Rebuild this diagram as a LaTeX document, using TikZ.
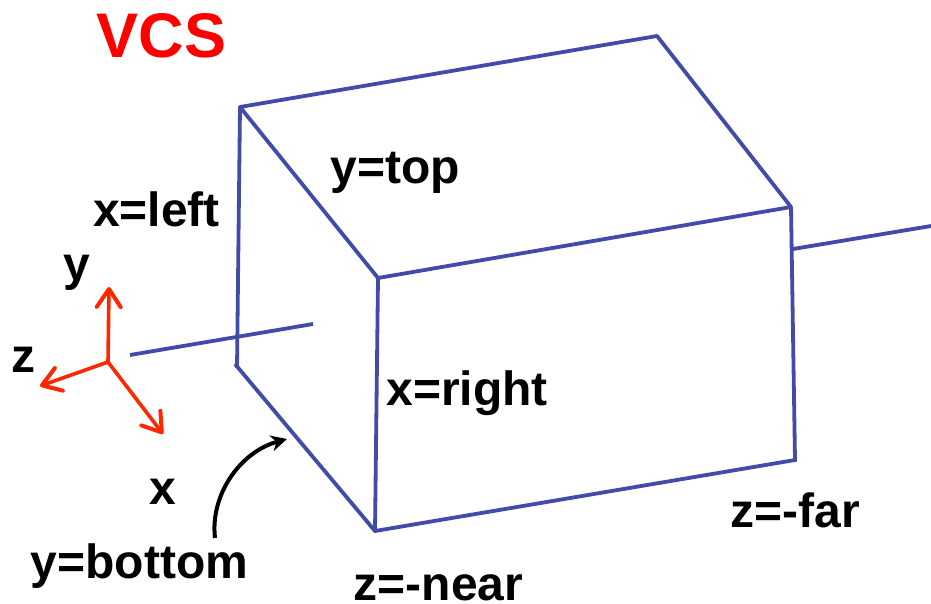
\documentclass[tikz,border=0pt]{standalone}
\usepackage{fontspec}
\setmainfont{Liberation Sans}
\usetikzlibrary{arrows.meta}
\definecolor{boxblue}{RGB}{66,74,170}
\definecolor{axisred}{RGB}{255,38,0}
\tikzset{
  edgeline/.style={draw=boxblue,line width=3.8pt},
  axisline/.style={draw=axisred,line width=3.6pt,-{Straight Barb[length=18pt,width=24pt,line width=4pt,round]}},
  lab/.style={font=\bfseries\fontsize{48}{48}\selectfont,text=black,inner sep=0pt,anchor=base},
}
\begin{document}
\begin{tikzpicture}[x=1pt,y=-1pt]
\useasboundingbox (0,0) rectangle (931,604);
\coordinate (A) at (240,107);
\coordinate (B) at (657,36);
\coordinate (C) at (791,207);
\coordinate (D) at (378,278);
\coordinate (E) at (235,364);
\coordinate (F) at (375,531);
\coordinate (G) at (795,460);
\coordinate (H) at (237,368);
\coordinate (I1) at (793,249);
\coordinate (I2) at (931,226);
\coordinate (I3) at (130,355);
\coordinate (I4) at (313,324);
\coordinate (O) at (108,362);
\coordinate (Ay) at (109,287);
\coordinate (Az) at (40,386);
\coordinate (Ax) at (163,434);
\coordinate (Cs) at (215,538);
\coordinate (Ce) at (287,439);
\draw[edgeline,line join=round] (B) -- (A) -- (D) -- (C) -- cycle;
\draw[edgeline] (A) -- (H);
\draw[edgeline] (D) -- (F);
\draw[edgeline] (C) -- (G) -- (F) -- (E);
\draw[edgeline] (I1) -- (I2);
\draw[edgeline] (I3) -- (I4);
\draw[axisline] (O) -- (Ay);
\draw[axisline] (O) -- (Az);
\draw[axisline] (O) -- (Ax);
\draw[line width=4pt,-{Stealth[length=16pt,width=16pt]}] (Cs) .. controls (210,495) and (240,452) .. (Ce);
\node[lab,font=\bfseries\fontsize{63}{63}\selectfont,text={rgb,255:red,255;green,0;blue,0}] (vcs) at (161.5,58) {VCS};
\node[lab] (ytop) at (395.5,183) {y=top};
\node[lab] (xleft) at (156.5,226) {x=left};
\node[lab] (ylab) at (77,280) {y};
\node[lab] (zlab) at (23.5,372) {z};
\node[lab] (xright) at (467,405) {x=right};
\node[lab] (xlab) at (162.5,504) {x};
\node[lab] (ybottom) at (139.5,578) {y=bottom};
\node[lab] (zfar) at (795,527) {z=-far};
\node[lab] (znear) at (438.5,600) {z=-near};
\end{tikzpicture}
\end{document}
